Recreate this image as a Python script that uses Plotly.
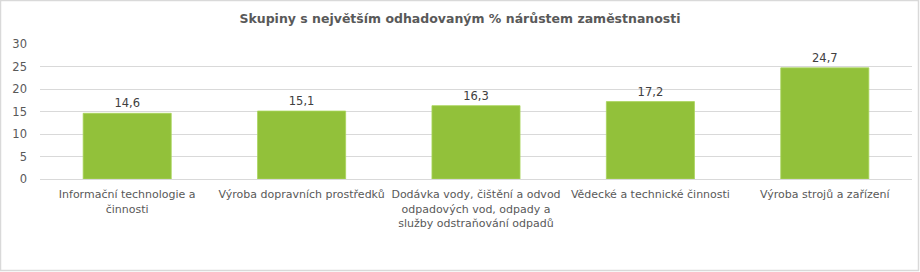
import plotly.graph_objects as go

categories = [
    "Informační technologie a<br>činnosti",
    "Výroba dopravních prostředků",
    "Dodávka vody, čištění a odvod<br>odpadových vod, odpady a<br>služby odstraňování odpadů",
    "Vědecké a technické činnosti",
    "Výroba strojů a zařízení",
]
values = [14.6, 15.1, 16.3, 17.2, 24.7]
tick_vals = [0, 5, 10, 15, 20, 25, 30]

W, H = 920, 272
L, R, T, B = 40, 8, 44, 93
pw, ph = W - L - R, H - T - B

FONT = "DejaVu Sans"
GRAY = "#595959"

fig = go.Figure(go.Bar(
    x=categories,
    y=values,
    width=0.505,
    marker=dict(color="#92C13A", line=dict(color="#A8D45A", width=0.8)),
    text=[f"{v:.1f}".replace(".", ",") for v in values],
    textposition="outside",
    cliponaxis=False,
    textfont=dict(family=FONT, size=11.5, color="#404040"),
    hoverinfo="skip",
))

fig.update_layout(
    width=W, height=H,
    margin=dict(l=L, r=R, t=T, b=B),
    paper_bgcolor="white",
    plot_bgcolor="white",
    separators=", ",
    showlegend=False,
    title=dict(
        text="<b>Skupiny s největším odhadovaným % nárůstem zaměstnanosti</b>",
        x=0.5, xanchor="center", y=1 - 19 / H, yanchor="middle",
        font=dict(family=FONT, size=12.5, color=GRAY),
    ),
    xaxis=dict(
        tickfont=dict(family=FONT, size=11, color=GRAY),
        showline=True, linecolor="#D9D9D9", linewidth=1,
        ticks="", showgrid=False, ticklabelstandoff=5,
    ),
    yaxis=dict(
        range=[0, 30],
        tickvals=tick_vals,
        tickfont=dict(family=FONT, size=11.5, color=GRAY),
        showgrid=True, gridcolor="#D9D9D9", gridwidth=1,
        zeroline=False, showline=False, ticks="", ticklen=0,
        automargin=False, ticklabelstandoff=12,
    ),
    bargap=0.5,
    shapes=[dict(
        type="rect", xref="paper", yref="paper",
        x0=-(L - 0.5) / pw, x1=1 + (R - 1.5) / pw,
        y0=-(B - 1.5) / ph, y1=1 + (T - 0.5) / ph,
        line=dict(color="#D9D9D9", width=1.5),
        layer="below",
    )],
)
fig.update_xaxes(automargin=False)

fig.write_html("out.html")
